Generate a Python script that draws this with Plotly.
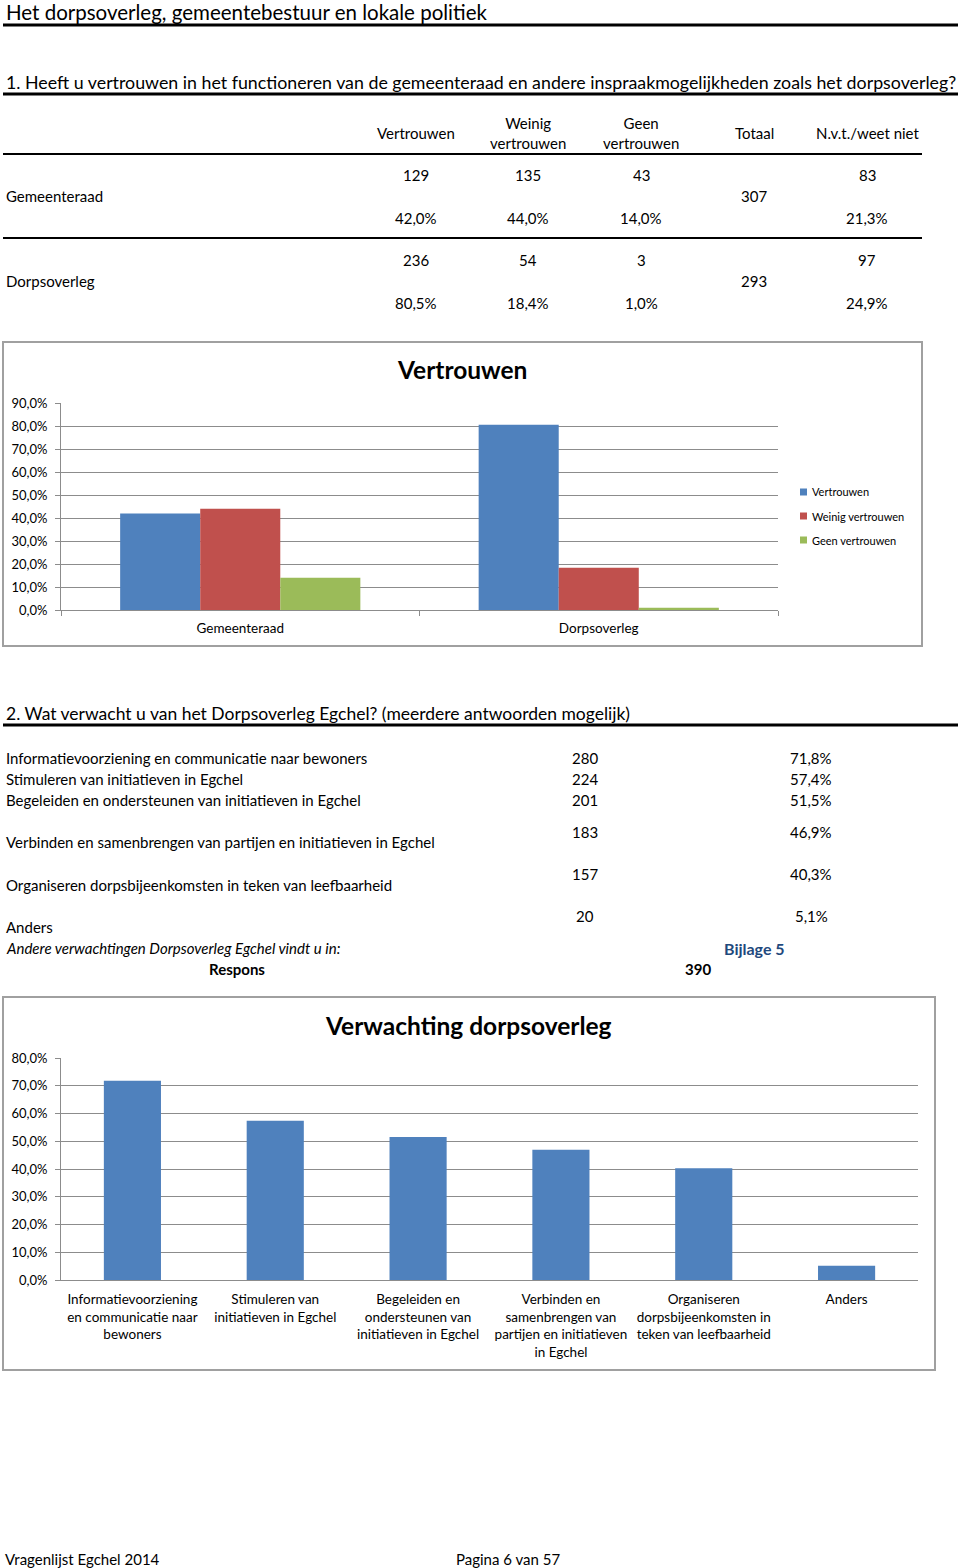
import plotly.graph_objects as go

W, H = 960, 1568
FONT = "Lato, 'Open Sans', sans-serif"

# ---------------- data ----------------
page_title = "Het dorpsoverleg, gemeentebestuur en lokale politiek"
q1_title = "1. Heeft u vertrouwen in het functioneren van de gemeenteraad en andere inspraakmogelijkheden zoals het dorpsoverleg?"
q1_headers = ["Vertrouwen", "Weinig<br>vertrouwen", "Geen<br>vertrouwen", "Totaal", "N.v.t./weet niet"]
q1_rows = ["Gemeenteraad", "Dorpsoverleg"]
q1_counts = [[129, 135, 43], [236, 54, 3]]
q1_pcts = [["42,0%", "44,0%", "14,0%"], ["80,5%", "18,4%", "1,0%"]]
q1_totals = [307, 293]
q1_nvt_counts = [83, 97]
q1_nvt_pcts = ["21,3%", "24,9%"]

chart1_title = "Vertrouwen"
chart1_categories = ["Gemeenteraad", "Dorpsoverleg"]
chart1_series = ["Vertrouwen", "Weinig vertrouwen", "Geen vertrouwen"]
chart1_values = {
    "Vertrouwen": [0.420, 0.805],
    "Weinig vertrouwen": [0.440, 0.184],
    "Geen vertrouwen": [0.140, 0.010],
}
chart1_colors = {"Vertrouwen": "#4F81BD", "Weinig vertrouwen": "#C0504D", "Geen vertrouwen": "#9BBB59"}
chart1_ticks = [0.0, 0.1, 0.2, 0.3, 0.4, 0.5, 0.6, 0.7, 0.8, 0.9]

q2_title = "2. Wat verwacht u van het Dorpsoverleg Egchel? (meerdere antwoorden mogelijk)"
q2_items = [
    "Informatievoorziening en communicatie naar bewoners",
    "Stimuleren van initiatieven in Egchel",
    "Begeleiden en ondersteunen van initiatieven in Egchel",
    "Verbinden en samenbrengen van partijen en initiatieven in Egchel",
    "Organiseren dorpsbijeenkomsten in teken van leefbaarheid",
    "Anders",
]
q2_counts = [280, 224, 201, 183, 157, 20]
q2_pcts = ["71,8%", "57,4%", "51,5%", "46,9%", "40,3%", "5,1%"]
q2_note = "Andere verwachtingen Dorpsoverleg Egchel vindt u in:"
q2_link = "Bijlage 5"
q2_response_label = "Respons"
q2_response = 390

chart2_title = "Verwachting dorpsoverleg"
chart2_labels = [
    "Informatievoorziening<br>en communicatie naar<br>bewoners",
    "Stimuleren van<br>initiatieven in Egchel",
    "Begeleiden en<br>ondersteunen van<br>initiatieven in Egchel",
    "Verbinden en<br>samenbrengen van<br>partijen en initiatieven<br>in Egchel",
    "Organiseren<br>dorpsbijeenkomsten in<br>teken van leefbaarheid",
    "Anders",
]
chart2_values = [0.718, 0.574, 0.515, 0.469, 0.403, 0.051]
chart2_ticks = [0.0, 0.1, 0.2, 0.3, 0.4, 0.5, 0.6, 0.7, 0.8]

footer_left = "Vragenlijst Egchel 2014"
footer_center = "Pagina 6 van 57"

# ---------------- helpers ----------------
def px(x):
    return x / W

def py(y):
    return 1 - y / H

annotations = []
shapes = []

def txt(text, x, y, size=15, anchor="left", bold=False, italic=False, color="black", font=FONT):
    if bold:
        text = "<b>" + text + "</b>"
    if italic:
        text = "<i>" + text + "</i>"
    annotations.append(dict(
        text=text, x=px(x), y=py(y), xref="paper", yref="paper",
        xanchor=anchor, yanchor="middle", showarrow=False,
        font=dict(family=font, size=size, color=color), align="center",
    ))

def hline(x0, x1, y, width=2, color="black"):
    shapes.append(dict(type="line", xref="paper", yref="paper",
                       x0=px(x0), x1=px(x1), y0=py(y), y1=py(y),
                       line=dict(color=color, width=width)))

def box(x0, y0, x1, y1):
    shapes.append(dict(type="rect", xref="paper", yref="paper",
                       x0=px(x0), x1=px(x1), y0=py(y1), y1=py(y0),
                       line=dict(color="#A0A0A0", width=2), fillcolor="rgba(0,0,0,0)", layer="below"))

TS = 15  # table font size

# ---------------- text table part 1 ----------------
txt(page_title, 4, 12, size=20.5)
hline(3, 958, 25, width=3)
txt(q1_title, 4, 82, size=17.8)
hline(3, 958, 94, width=3)

col_x = [416, 528, 641, 754, 867]
for hx, h in zip(col_x, q1_headers):
    txt(h, hx, 133, size=TS, anchor="center")
hline(3, 922, 154, width=2)

row_base = [196, 281]
for i, r in enumerate(q1_rows):
    yb = row_base[i]
    txt(r, 4, yb, size=TS)
    for j in range(3):
        txt(str(q1_counts[i][j]), col_x[j], yb - 21, size=TS, anchor="center")
        txt(q1_pcts[i][j], col_x[j], yb + 22, size=TS, anchor="center")
    txt(str(q1_totals[i]), col_x[3], yb, size=TS, anchor="center")
    txt(str(q1_nvt_counts[i]), col_x[4], yb - 21, size=TS, anchor="center")
    txt(q1_nvt_pcts[i], col_x[4], yb + 22, size=TS, anchor="center")
hline(3, 922, 238, width=2)

# ---------------- chart 1 ----------------
box(3, 342, 922, 646)
txt(chart1_title, 462, 369, size=24.5, anchor="center", bold=True)

# legend (colours and names taken from the series definitions)
leg_y = [492, 516, 540]
for s, ly in zip(chart1_series, leg_y):
    shapes.append(dict(type="rect", xref="paper", yref="paper",
                       x0=px(800), x1=px(807), y0=py(ly + 3.5), y1=py(ly - 3.5),
                       line=dict(width=0), fillcolor=chart1_colors[s]))
    txt(s, 810, ly, size=11)

# ---------------- text part 2 ----------------
txt(q2_title, 4, 713, size=17.5)
hline(3, 958, 725, width=3)
label_y = [758, 779, 800, 842, 885, 927]
value_y = [758, 779, 800, 832, 874, 916]
for lab, ly, vy, c, p in zip(q2_items, label_y, value_y, q2_counts, q2_pcts):
    txt(lab, 4, ly, size=TS)
    txt(str(c), 585, vy, size=TS, anchor="center")
    txt(p, 811, vy, size=TS, anchor="center")
txt(q2_note, 4, 948, size=TS, italic=True)
txt(q2_link, 754, 948, size=16, anchor="center", bold=True, color="#1F497D")
txt(q2_response_label, 237, 969, size=TS, anchor="center", bold=True)
txt(str(q2_response), 698, 969, size=TS, anchor="center", bold=True)

# ---------------- chart 2 ----------------
box(3, 997, 935, 1370)
txt(chart2_title, 468, 1025, size=24.5, anchor="center", bold=True)

# footer
txt(footer_left, 3, 1559, size=TS)
txt(footer_center, 508, 1559, size=TS, anchor="center")

# ---------------- figure ----------------
fig = go.Figure()
for s in chart1_series:
    fig.add_trace(go.Bar(
        x=chart1_categories, y=chart1_values[s], name=s,
        marker=dict(color=chart1_colors[s], line=dict(width=0)),
        xaxis="x", yaxis="y",
    ))

fig.add_trace(go.Bar(
    x=chart2_labels, y=chart2_values, name="Verwachting",
    marker=dict(color="#4F81BD", line=dict(width=0)), width=0.4,
    xaxis="x2", yaxis="y2",
))

axis_font = dict(family=FONT, size=13, color="black")
xlab_font = dict(family=FONT, size=13.5, color="black")
grid_color = "#8C8C8C"

fig.update_layout(
    width=W, height=H,
    margin=dict(l=0, r=0, t=0, b=0, pad=0, autoexpand=False),
    paper_bgcolor="white", plot_bgcolor="white",
    separators=",.",
    barmode="group", bargap=0.33, bargroupgap=0,
    font=dict(family=FONT, color="black"),
    showlegend=False,
    xaxis=dict(domain=[px(61), px(778)], anchor="y", type="category",
               showline=True, linecolor=grid_color, linewidth=1,
               ticks="outside", tickson="boundaries", ticklen=5, tickcolor=grid_color,
               tickfont=xlab_font, ticklabelstandoff=6, showgrid=False,
               automargin=False, fixedrange=True),
    yaxis=dict(domain=[py(610), py(403)], anchor="x", range=[0, 0.9],
               tickvals=chart1_ticks, tickformat=".1%",
               showline=True, linecolor=grid_color, linewidth=1,
               ticks="outside", ticklen=5, tickcolor=grid_color,
               showgrid=True, gridcolor=grid_color, gridwidth=1,
               zeroline=False, tickfont=axis_font, ticklabelstandoff=5,
               automargin=False, fixedrange=True),
    xaxis2=dict(domain=[px(61), px(918)], anchor="y2", type="category",
                showline=True, linecolor=grid_color, linewidth=1,
                ticks="", tickfont=xlab_font, ticklabelstandoff=7, showgrid=False,
                automargin=False, fixedrange=True),
    yaxis2=dict(domain=[py(1280), py(1058)], anchor="x2", range=[0, 0.8],
                tickvals=chart2_ticks, tickformat=".1%",
                showline=True, linecolor=grid_color, linewidth=1,
                ticks="outside", ticklen=5, tickcolor=grid_color,
                showgrid=True, gridcolor=grid_color, gridwidth=1,
                zeroline=False, tickfont=axis_font, ticklabelstandoff=5,
                automargin=False, fixedrange=True),
    annotations=annotations,
    shapes=shapes,
)

page_css = (
    "var s=document.createElement('style');"
    "s.textContent='html,body{margin:0!important;padding:0!important;overflow:hidden;}';"
    "document.head.appendChild(s);"
)

fig.write_html(
    "out.html",
    config={"displayModeBar": False},
    post_script=page_css,
)
